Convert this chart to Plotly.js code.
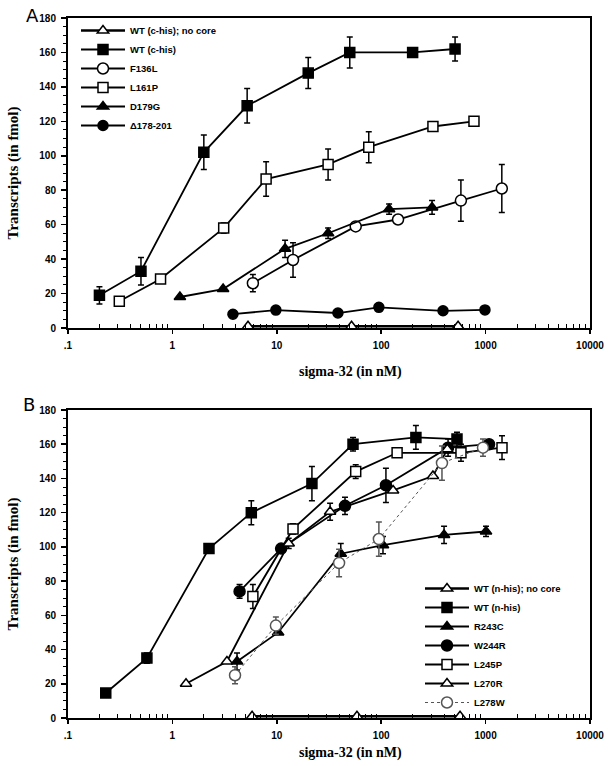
<!DOCTYPE html>
<html>
<head>
<meta charset="utf-8">
<script src="https://cdn.plot.ly/plotly-3.0.1.min.js"></script>
<style>html,body{margin:0;padding:0;background:#fff}#chart{width:615px;height:766px}</style>
</head>
<body>
<div id="chart"></div>
<script>
// ---------- Panel A data ----------
const aNoCoreX = [5.3, 52, 545];
const aNoCoreY = [1, 1, 1];
const aWtX = [0.2, 0.5, 2, 5.2, 20, 50, 200, 510];
const aWtY = [19, 33, 102, 129, 148, 160, 160, 162];
const aWtErr = [5, 8, 10, 10, 9, 9, 0, 7];
const aF136LX = [5.9, 14.3, 57, 145, 580, 1430];
const aF136LY = [26, 39.5, 59, 63, 74, 81];
const aF136LErr = [5, 10, 0, 0, 12, 14];
const aL161PX = [0.31, 0.77, 3.1, 7.9, 31, 76, 313, 774];
const aL161PY = [15.5, 28.5, 58, 86.5, 95, 105, 117, 120];
const aL161PErr = [0, 0, 3, 10, 9, 9, 0, 0];
const aD179GX = [1.18, 3.06, 12, 31, 119, 307];
const aD179GY = [18, 22.6, 46, 55, 69, 70];
const aD179GErr = [0, 0, 5, 3, 3, 4];
const aDelX = [3.8, 9.8, 38.5, 95, 391, 986];
const aDelY = [8, 10.4, 8.7, 12, 10, 10.5];

// ---------- Panel B data ----------
const bNoCoreX = [5.8, 58.6, 569];
const bNoCoreY = [1, 1, 1];
const bWtX = [0.23, 0.57, 2.24, 5.7, 21.7, 53.7, 215, 532];
const bWtY = [14.6, 35, 99, 120, 137, 160, 164, 163];
const bWtErr = [0, 3, 0, 7, 10, 4, 7, 4];
const bR243CX = [4.16, 10.3, 41, 104, 400, 1009];
const bR243CY = [33, 50, 96, 101, 107, 109];
const bR243CErr = [5, 0, 6, 5, 5, 3];
const bW244RX = [4.4, 11, 45, 111, 437, 1079];
const bW244RY = [74, 99, 124, 136, 158, 160];
const bW244RErr = [4, 0, 5, 10, 5, 0];
const bL245PX = [5.9, 14.3, 57, 142, 581, 1436];
const bL245PY = [71, 110.5, 144, 155, 155, 158];
const bL245PErr = [7, 3, 4, 0, 5, 7];
const bL270RX = [1.35, 3.33, 13, 32.4, 130, 313, 430];
const bL270RY = [20, 33, 102, 120.5, 133, 141.4, 157];
const bL270RErr = [0, 0, 3, 5, 0, 0, 0];
const bL278WX = [3.98, 9.8, 39.5, 95, 382, 944];
const bL278WY = [25, 54, 90.6, 104.6, 149, 158];
const bL278WErr = [5, 5, 8, 10, 10, 5];

const xTickVals = [0.1, 1, 10, 100, 1000, 10000];
const xTickText = ['.1', '1', '10', '100', '1000', '10000'];
const yTickVals = [0, 20, 40, 60, 80, 100, 120, 140, 160, 180];

function series(name, x, y, err, symbol, filled, axisX, axisY, legend, opts) {
  opts = opts || {};
  const col = opts.color || 'black';
  const t = {
    type: 'scatter', mode: 'lines+markers', name: name, x: x, y: y,
    xaxis: axisX, yaxis: axisY, legend: legend, cliponaxis: false,
    line: {color: col, width: opts.lw || 1.8, dash: opts.dash || 'solid'},
    marker: {symbol: symbol, size: opts.size || 10, color: filled ? col : 'white',
             line: {color: col, width: 1.5}}
  };
  if (err) {
    t.error_y = {type: 'data', array: err, visible: true, color: col, thickness: 1.5, width: 3};
  }
  return t;
}

const data = [
  series('WT (c-his); no core', aNoCoreX, aNoCoreY, null, 'triangle-up', false, 'x', 'y', 'legend', {lw: 2.5}),
  series('WT (c-his)', aWtX, aWtY, aWtErr, 'square', true, 'x', 'y', 'legend'),
  series('F136L', aF136LX, aF136LY, aF136LErr, 'circle', false, 'x', 'y', 'legend', {size: 11}),
  series('L161P', aL161PX, aL161PY, aL161PErr, 'square', false, 'x', 'y', 'legend'),
  series('D179G', aD179GX, aD179GY, aD179GErr, 'triangle-up', true, 'x', 'y', 'legend'),
  series('\u0394178-201', aDelX, aDelY, null, 'circle', true, 'x', 'y', 'legend'),

  series('WT (n-his); no core', bNoCoreX, bNoCoreY, null, 'triangle-up', false, 'x2', 'y2', 'legend2', {lw: 2.5}),
  series('WT (n-his)', bWtX, bWtY, bWtErr, 'square', true, 'x2', 'y2', 'legend2'),
  series('R243C', bR243CX, bR243CY, bR243CErr, 'triangle-up', true, 'x2', 'y2', 'legend2'),
  series('W244R', bW244RX, bW244RY, bW244RErr, 'circle', true, 'x2', 'y2', 'legend2', {size: 11}),
  series('L245P', bL245PX, bL245PY, bL245PErr, 'square', false, 'x2', 'y2', 'legend2'),
  series('L270R', bL270RX, bL270RY, bL270RErr, 'triangle-up', false, 'x2', 'y2', 'legend2'),
  series('L278W', bL278WX, bL278WY, bL278WErr, 'circle', false, 'x2', 'y2', 'legend2', {color: '#555', lw: 1, dash: 'dot', size: 11})
];

const tickFont = {family: 'Liberation Sans, Arial, sans-serif', size: 10, color: 'black', weight: 'bold'};
const titleFont = {family: 'Liberation Serif, Times New Roman, serif', size: 15, color: 'black', weight: 'bold'};
const legFont = {family: 'Liberation Sans Narrow, Liberation Sans, Arial, sans-serif', size: 9.5, color: 'black', weight: 'bold'};
const xTitleFont = {family: 'Liberation Serif, serif', size: 14, color: 'black', weight: 'bold'};
const panelFont = {family: 'DejaVu Sans, sans-serif', size: 18, color: 'black'};

function xAxis(anchor) {
  return {
    type: 'log', range: [-1, 4], domain: [68/615, 590/615], anchor: anchor,
    tickvals: xTickVals, ticktext: xTickText, ticks: 'outside', ticklen: 4, tickwidth: 1.5,
    tickcolor: 'black', tickfont: tickFont, ticklabelstandoff: 3,
    minor: {ticks: 'inside', ticklen: 4, tickwidth: 1, tickcolor: 'black',
            tickvals: [0.2,0.3,0.4,0.5,0.6,0.7,0.8,0.9,2,3,4,5,6,7,8,9,20,30,40,50,60,70,80,90,200,300,400,500,600,700,800,900,2000,3000,4000,5000,6000,7000,8000,9000]},
    showline: true, linecolor: 'black', linewidth: 2, mirror: true,
    showgrid: false, zeroline: false
  };
}
function yAxis(domain, anchor) {
  return {
    range: [0, 180], domain: domain, anchor: anchor,
    tickvals: yTickVals, ticks: 'outside', ticklen: 5, tickwidth: 1.5, tickcolor: 'black',
    tickfont: tickFont, ticklabelstandoff: 3,
    minor: {ticks: 'outside', ticklen: 3, tickwidth: 1, tickcolor: 'black', dtick: 5},
    showline: true, linecolor: 'black', linewidth: 2, mirror: true,
    showgrid: false, zeroline: false,
    title: {text: 'Transcripts (in fmol)', font: titleFont, standoff: 17}
  };
}

const layout = {
  width: 615, height: 766,
  margin: {l: 0, r: 0, t: 0, b: 0},
  paper_bgcolor: 'white', plot_bgcolor: 'white',
  showlegend: true,
  xaxis: xAxis('y'),
  yaxis: yAxis([1 - 328/766, 1 - 18/766], 'x'),
  xaxis2: xAxis('y2'),
  yaxis2: yAxis([1 - 718/766, 1 - 410/766], 'x2'),
  legend: {x: 76/615, xanchor: 'left', y: 1 - 16/766, yanchor: 'top', font: legFont,
           bgcolor: 'rgba(0,0,0,0)', borderwidth: 0, itemwidth: 44, traceorder: 'normal'},
  legend2: {x: 420/615, xanchor: 'left', y: 1 - 574/766, yanchor: 'top', font: legFont,
            bgcolor: 'rgba(0,0,0,0)', borderwidth: 0, itemwidth: 44, traceorder: 'normal'},
  annotations: [
    {text: 'A', x: 32/615, y: 1 - 15/766, xref: 'paper', yref: 'paper', xanchor: 'center', yanchor: 'middle',
     showarrow: false, font: panelFont},
    {text: 'B', x: 29/615, y: 1 - 404/766, xref: 'paper', yref: 'paper', xanchor: 'center', yanchor: 'middle',
     showarrow: false, font: panelFont},
    {text: 'sigma-32 (in nM)', x: 350/615, y: 1 - 372/766, xref: 'paper', yref: 'paper',
     xanchor: 'center', yanchor: 'middle', showarrow: false, font: xTitleFont},
    {text: 'sigma-32 (in nM)', x: 350/615, y: 1 - 753/766, xref: 'paper', yref: 'paper',
     xanchor: 'center', yanchor: 'middle', showarrow: false, font: xTitleFont}
  ]
};

Plotly.newPlot('chart', data, layout, {displayModeBar: false, staticPlot: true});
</script>
</body>
</html>
